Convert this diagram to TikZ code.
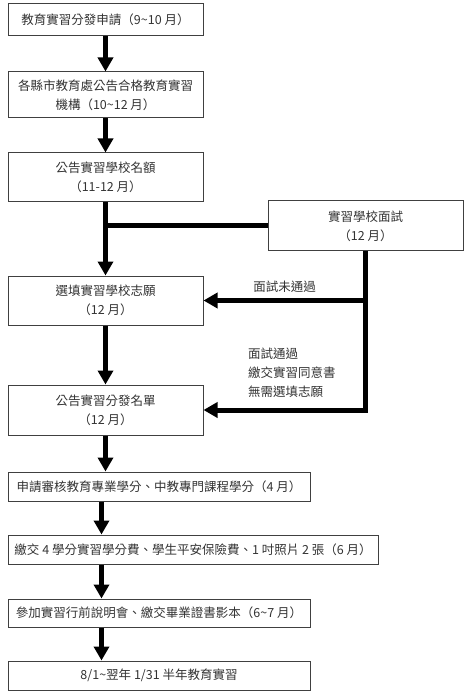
\documentclass[tikz,border=0pt]{standalone}
\usepackage{fontspec}
\setmainfont{Noto Sans CJK TC}
\usetikzlibrary{arrows.meta,positioning,calc}
\tikzstyle{stage} = [draw=black!75, line width=1pt, shape=rectangle, inner sep=0pt, align=center, text=black!80, font=\fontsize{12.5}{19}\selectfont]
\tikzstyle{note} = [text=black!80, font=\fontsize{12.5}{19}\selectfont, inner sep=0pt]
\tikzstyle{Flow} = [-{Triangle[width=15pt,length=14pt]}, line width=5pt]
\tikzstyle{Bar} = [line width=5pt]

\begin{document}
\begin{tikzpicture}[x=1pt,y=-1pt]
            \useasboundingbox (0,0) rectangle (473,700);
            %%%%% Application and quota %%%%%
            \node (apply) [stage, minimum width=195pt, minimum height=32pt] at (105.5,20) {教育實習分發申請（9\textasciitilde10 月）};
            \node (county) [stage, minimum width=195pt, minimum height=46pt] at (105.5,95) {各縣市教育處公告合格教育實習\\機構（10\textasciitilde12 月）};
            \node (quota) [stage, minimum width=195pt, minimum height=49pt] at (105.5,177.5) {公告實習學校名額\\（11-12 月）};
            \draw [Flow] (apply) -- (county);
            \draw [Flow] (county) -- (quota);
            %%%%% Interview %%%%%
            \node (interview) [stage, minimum width=195pt, minimum height=50pt] at (365.5,226) {實習學校面試\\（12 月）};
            \node (choose) [stage, minimum width=195pt, minimum height=49pt] at (105.5,300.5) {選填實習學校志願\\（12 月）};
            \node (result) [stage, minimum width=195pt, minimum height=50pt] at (105.5,410) {公告實習分發名單\\（12 月）};
            \draw [Flow] (quota) -- (choose);
            \draw [Bar] (interview.west) -- (quota.south |- interview.west);
            \draw [Flow] (choose) -- (result);
            \draw [Bar] (interview.south) -- ($(interview.south |- result.east)+(0,2.5)$);
            \draw [Flow] (interview.south |- result.east) -- (result.east);
            \draw [Flow] (interview.south |- choose.east) -- node [note, above=5pt] {面試未通過} (choose.east);
            \node (passed) [note, anchor=west, align=left] at (248,373) {面試通過\\繳交實習同意書\\無需選填志願};
            %%%%% Before practice %%%%%
            \node (credit) [stage, minimum width=302pt, minimum height=29pt] at (159,486.5) {申請審核教育專業學分、中教專門課程學分（4 月）};
            \node (fee) [stage, minimum width=370pt, minimum height=29pt] at (193,549.5) {繳交 4 學分實習學分費、學生平安保險費、1 吋照片 2 張（6 月）};
            \node (meeting) [stage, minimum width=302pt, minimum height=28pt] at (159,613) {參加實習行前說明會、繳交畢業證書影本（6\textasciitilde7 月）};
            \node (practice) [stage, minimum width=302pt, minimum height=29pt] at (159,675.5) {8/1\textasciitilde 翌年 1/31 半年教育實習};
            \draw [Flow] (result.south) -- (result.south |- credit.north);
            \draw [Flow] ($(credit.south west)+(94,0)$) -- ($(fee.north west)+(94,0)$);
            \draw [Flow] ($(fee.south west)+(94,0)$) -- ($(meeting.north west)+(94,0)$);
            \draw [Flow] ($(meeting.south west)+(94,0)$) -- ($(practice.north west)+(94,0)$);
        \end{tikzpicture}
\end{document}
